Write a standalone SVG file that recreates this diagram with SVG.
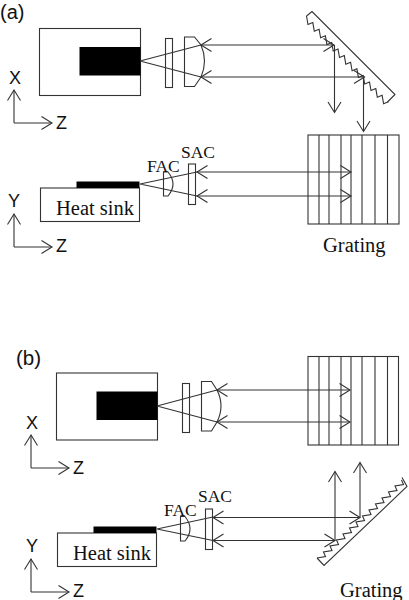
<svg xmlns="http://www.w3.org/2000/svg" width="409" height="600" viewBox="0 0 409 600">
<style>
.l{fill:none;stroke:#333;stroke-width:1.1}
.w{fill:#fff;stroke:#333;stroke-width:1.1}
.b{fill:#000;stroke:none}
.a{fill:none;stroke:#333;stroke-width:1.1;marker-end:url(#h)}
.d{fill:none;stroke:#333;stroke-width:1.1;marker-start:url(#h);marker-end:url(#h)}
.s{font-family:"Liberation Sans",Arial,sans-serif;fill:#111}
.t{font-family:"Liberation Serif","Times New Roman",serif;fill:#111}
</style>
<defs>
<marker id="h" markerUnits="userSpaceOnUse" markerWidth="24" markerHeight="24" refX="12" refY="12" orient="auto-start-reverse" viewBox="0 0 24 24">
<path d="M1.5,5.5L12,12L1.5,18.500" fill="none" stroke="#333" stroke-width="1.1"/>
</marker>
</defs>
<rect width="409" height="600" fill="#fff"/>

<g id="a-labels">
<text class="s" x="0" y="18.500" font-size="20">(a)</text>
</g>
<g id="a-top-source">
<rect class="w" x="39.500" y="28.500" width="101" height="67"/>
<rect class="b" x="79.500" y="47" width="61" height="28.500"/>
</g>
<g id="a-top-lens1"><rect class="w" x="165.500" y="38.500" width="7" height="49"/></g>
<g id="a-top-lens2"><path class="w" d="M184.500,37H194.500L201,45Q208,61 201,77L194.500,86.500H184.500Z"/></g>
<g id="a-top-grating">
<path class="l" d="M306.500,16L312,11.500L395,94.500L387.500,102"/>
<path class="l" d="M306.500,16l1.500,8.600l4.800,-2l1.500,8.600l4.800,-2l1.500,8.600l4.800,-2l1.500,8.600l4.800,-2l1.500,8.600l4.800,-2l1.500,8.600l4.800,-2l1.500,8.600l4.800,-2l1.500,8.600l4.800,-2l1.500,8.600l4.800,-2l1.500,8.600l4.800,-2l1.500,8.600l4.800,-2l1.500,8.600l4.800,-2l1.500,8.600l4.800,-2"/>
</g>
<g id="a-axes-xz">
<text class="s" x="9" y="84" font-size="18">X</text>
<text class="s" x="56" y="129" font-size="18">Z</text>
<path class="a" d="M14,123V90"/>
<path class="a" d="M14,123H52"/>
</g>
<g id="a-side-heatsink">
<rect class="w" x="40.500" y="188" width="99" height="33.500"/>
<rect class="b" x="76.500" y="181.500" width="63" height="6.500"/>
<text class="t" x="56" y="215" font-size="20.500">Heat sink</text>
</g>
<g id="a-side-fac">
<path class="w" d="M163.500,172H168Q178,184 168,196H163.500Z"/>
<text class="t" x="147" y="172" font-size="17.500">FAC</text>
</g>
<g id="a-side-sac">
<rect class="w" x="188.500" y="164" width="7" height="40.500"/>
<text class="t" x="181" y="158" font-size="17.500">SAC</text>
</g>
<g id="a-side-grating">
<rect class="w" x="308" y="135" width="91" height="89"/>
<path class="l" d="M319,135V224M329,135V224M341,135V224M351,135V224M362,135V224M375,135V224M387.500,135V224"/>
<text class="t" x="323" y="252" font-size="20.500">Grating</text>
</g>

<g id="b-labels">
<text class="s" x="16" y="365" font-size="20.500">(b)</text>
</g>
<g id="b-top-source">
<rect class="w" x="56.500" y="373" width="101" height="67"/>
<rect class="b" x="96.500" y="391.500" width="61" height="28.500"/>
</g>
<g id="b-top-lens1"><rect class="w" x="182.500" y="383.500" width="7" height="49"/></g>
<g id="b-top-lens2"><path class="w" d="M201.500,381.500H211.500L217,390Q225,406 217,422L211.500,431H201.500Z"/></g>
<g id="b-top-grating">
<rect class="w" x="308" y="356.500" width="90.500" height="88.500"/>
<path class="l" d="M319,356.500V445M329,356.500V445M341,356.500V445M351,356.500V445M362,356.500V445M375,356.500V445M387.500,356.500V445"/>
</g>
<g id="b-axes-xz">
<text class="s" x="26" y="429" font-size="18">X</text>
<text class="s" x="73" y="474" font-size="18">Z</text>
<path class="a" d="M31,468V435"/>
<path class="a" d="M31,468H69"/>
</g>
<g id="a-axes-yz">
<text class="s" x="8" y="207" font-size="18">Y</text>
<text class="s" x="56" y="252" font-size="18">Z</text>
<path class="a" d="M14,247V214"/>
<path class="a" d="M14,247H52"/>
</g>
<g id="b-side-heatsink">
<rect class="w" x="57.500" y="533" width="99" height="33.500"/>
<rect class="b" x="93.500" y="526.500" width="63" height="6.500"/>
<text class="t" x="73" y="560" font-size="20.500">Heat sink</text>
</g>
<g id="b-side-fac">
<path class="w" d="M180.500,516.500H185Q195,529 185,541H180.500Z"/>
<text class="t" x="164" y="516" font-size="17.500">FAC</text>
</g>
<g id="b-side-sac">
<rect class="w" x="205.500" y="509" width="7" height="40.500"/>
<text class="t" x="198" y="502" font-size="17.500">SAC</text>
</g>
<g id="b-side-grating">
<path class="l" d="M317,558L324,565.500L407,486.500L402,477.500"/>
<path class="l" d="M317,558l8.500,-1.500l-2,-4.500l8.500,-1.500l-2,-4.500l8.500,-1.500l-2,-4.500l8.500,-1.500l-2,-4.500l8.500,-1.500l-2,-4.500l8.500,-1.500l-2,-4.500l8.500,-1.500l-2,-4.500l8.500,-1.500l-2,-4.500l8.500,-1.500l-2,-4.500l8.500,-1.500l-2,-4.500l8.500,-1.500l-2,-4.500l8.500,-1.500l-2,-4.500l8.500,-1.500l-2,-4.500"/>
<text class="t" x="340" y="597" font-size="20.500">Grating</text>
</g>
<g id="b-axes-yz">
<text class="s" x="26" y="552" font-size="18">Y</text>
<text class="s" x="73" y="597" font-size="18">Z</text>
<path class="a" d="M31,592V559"/>
<path class="a" d="M31,592H69"/>
</g>

<g id="connectors">
<path class="l" d="M140,61L201,45M140,61L201,77"/>
<path class="d" d="M201,45H334"/>
<path class="d" d="M201,77H364.500"/>
<path class="a" d="M334.500,45V112.500"/>
<path class="a" d="M363.500,77V131.500"/>
<path class="l" d="M140,184L197,172M140,184L197,196"/>
<path class="d" d="M197,172H351"/>
<path class="d" d="M197,196H351"/>
<path class="l" d="M157,406L217,390M157,406L217,422"/>
<path class="d" d="M217,390H350"/>
<path class="d" d="M217,422H350"/>
<path class="l" d="M157,529L213,517M157,529L213,540.500"/>
<path class="d" d="M213,517.500H360"/>
<path class="d" d="M213,540.500H335"/>
<path class="a" d="M335,540.500V471.500"/>
<path class="a" d="M360,517.500V462.500"/>
</g>
</svg>
